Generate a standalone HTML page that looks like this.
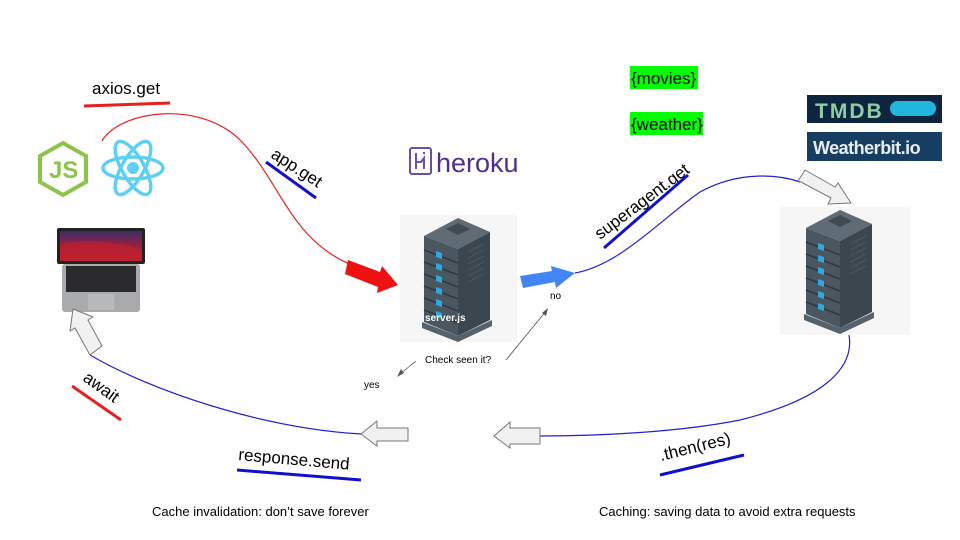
<!DOCTYPE html>
<html><head><meta charset="utf-8"><style>
html,body{margin:0;padding:0;background:#fff;}
svg{display:block;font-family:"Liberation Sans",Arial,sans-serif;}
</style></head><body>
<svg width="960" height="540" viewBox="0 0 960 540" xmlns="http://www.w3.org/2000/svg">
<defs>
<g id="srv">
  <polygon points="0,18 34,0 66,14 34,31" fill="#5f6b75"/>
  <polygon points="22,11 34,5 46,11 34,17" fill="#3f4a53"/>
  <polygon points="0,18 34,31 34,118 0,104" fill="#4a5660"/>
  <polygon points="34,31 66,14 66,102 34,118" fill="#3b464f"/>
  <g stroke="#2f3940" stroke-width="1.5">
    <line x1="0" y1="32" x2="34" y2="45"/><line x1="0" y1="44" x2="34" y2="57"/>
    <line x1="0" y1="56" x2="34" y2="69"/><line x1="0" y1="68" x2="34" y2="81"/>
    <line x1="0" y1="80" x2="34" y2="93"/><line x1="0" y1="92" x2="34" y2="105"/>
  </g>
  <g fill="#2fa8e0">
    <polygon points="12,33 18,35 18,41 12,39"/><polygon points="12,45 18,47 18,53 12,51"/>
    <polygon points="12,57 18,59 18,65 12,63"/><polygon points="12,69 18,71 18,77 12,75"/>
    <polygon points="12,81 18,83 18,89 12,87"/><polygon points="12,93 18,95 18,101 12,99"/>
  </g>
  <g stroke="#4c5860" stroke-width="1">
    <line x1="44" y1="34" x2="60" y2="26"/><line x1="44" y1="40" x2="60" y2="32"/><line x1="44" y1="46" x2="60" y2="38"/><line x1="44" y1="52" x2="60" y2="44"/><line x1="44" y1="58" x2="60" y2="50"/><line x1="44" y1="64" x2="60" y2="56"/>
  </g>
  <polygon points="-2,104 34,118 68,102 68,108 34,124 -2,110" fill="#56626b"/>
</g>
<linearGradient id="scr" x1="0" y1="0" x2="0" y2="1">
  <stop offset="0" stop-color="#3a2d6a"/><stop offset="0.5" stop-color="#9a2040"/><stop offset="1" stop-color="#c02030"/>
</linearGradient>
</defs>

<rect x="400" y="215" width="117" height="127" fill="#f6f6f6"/>
<rect x="780" y="207" width="130" height="128" fill="#f6f6f6"/>
<use href="#srv" x="424" y="218"/>
<use href="#srv" x="806" y="210"/>
<text x="425" y="321" font-size="10" fill="#fff" font-weight="bold">server.js</text>

<rect x="410" y="148" width="21" height="26" rx="2" fill="none" stroke="#6a4fa5" stroke-width="2"/>
<path d="M416 153 v16 M416 162 h5 l3 -4 v11 M424 152 v2" stroke="#6a4fa5" stroke-width="2" fill="none"/>
<text x="436" y="172" font-size="27" fill="#4f2e90">heroku</text>

<polygon points="63,143 86,156 86,182 63,195 40,182 40,156" fill="none" stroke="#8cc44a" stroke-width="4"/>
<text x="49" y="178" font-size="24" fill="#8cc44a" font-weight="bold">JS</text>
<g transform="translate(133,168)" fill="none" stroke="#5fd0f3" stroke-width="3.5">
  <ellipse rx="30" ry="11"/><ellipse rx="30" ry="11" transform="rotate(60)"/><ellipse rx="30" ry="11" transform="rotate(-60)"/>
  <circle r="6" fill="#5fd0f3" stroke="none"/>
</g>

<rect x="57" y="228" width="88" height="36" rx="2" fill="#222"/>
<rect x="60" y="231" width="82" height="30" fill="url(#scr)"/>
<path d="M60 244 Q100 236 142 250 V261 H60 Z" fill="#c0202e" opacity="0.7"/>
<rect x="62" y="264" width="78" height="48" rx="3" fill="#a9aaac"/>
<rect x="66" y="266" width="70" height="26" fill="#2a2a2c"/>
<rect x="88" y="294" width="26" height="16" fill="#b8b9bb"/>

<rect x="807" y="95" width="135" height="28" fill="#0d253f"/>
<text x="815" y="118" font-size="21" font-weight="bold" fill="#90cea1" letter-spacing="2">TMDB</text>
<rect x="890" y="101" width="46" height="15" rx="7.5" fill="#22b6dc"/>
<rect x="807" y="132" width="135" height="29" fill="#173e62"/>
<text x="813" y="154" font-size="18" font-weight="bold" fill="#e8eef4" letter-spacing="-0.5">Weatherbit.io</text>

<rect x="630" y="66" width="68" height="23" fill="#00ff00"/>
<text x="631" y="84" font-size="17">{movies}</text>
<rect x="630" y="112" width="73" height="23" fill="#00ff00"/>
<text x="631" y="130" font-size="17">{weather}</text>

<path d="M102 141 C120 110 200 100 240 140 C280 180 290 240 352 265" fill="none" stroke="#e52020" stroke-width="1.2"/>
<polygon points="348,260 380,272 382,266 398,285 377,293 378,287 345,274" fill="#ee1111"/>
<text x="92" y="94" font-size="17">axios.get</text>
<line x1="84" y1="106" x2="170" y2="103" stroke="#e52020" stroke-width="3"/>
<text transform="translate(270,157) rotate(33)" font-size="17">app.get</text>
<line x1="266" y1="162" x2="316" y2="198" stroke="#1010cc" stroke-width="3"/>

<polygon points="520,276 552,271 551,266 575,273 556,288 555,282 523,288" fill="#4285f4"/>
<path d="M575,273 C620,265 660,220 700,192 C740,170 780,175 800,182" fill="none" stroke="#2222cc" stroke-width="1.2"/>
<text transform="translate(600,240) rotate(-37)" font-size="17">superagent.get</text>
<line x1="604" y1="248" x2="688" y2="175" stroke="#1010cc" stroke-width="3"/>
<polygon points="798,181 805,170 835,187 838,183 851,203 828,204 831,198 801,182" fill="#f1f1f1" stroke="#777" stroke-width="1"/>

<text x="550" y="299" font-size="10">no</text>

<path d="M849 335 C855 370 820 400 740 420 C680 432 600 436 540 436" fill="none" stroke="#2222cc" stroke-width="1.2"/>
<polygon points="540,428 540,444 510,444 510,448 494,436 510,422 510,428" fill="#f1f1f1" stroke="#777" stroke-width="1"/>
<text transform="translate(661,461) rotate(-14)" font-size="17">.then(res)</text>
<line x1="660" y1="475" x2="744" y2="455" stroke="#1010cc" stroke-width="3"/>

<polygon points="408,428 408,441 377,441 377,446 361,434 377,421 377,428" fill="#f1f1f1" stroke="#777" stroke-width="1"/>
<path d="M361 434 C260 428 150 390 90 355" fill="none" stroke="#2222cc" stroke-width="1.2"/>
<polygon points="90,355 75,328 70,331 73,309 93,317 88,320 102,346" fill="#f1f1f1" stroke="#777" stroke-width="1"/>
<text transform="translate(82,380) rotate(36)" font-size="17">await</text>
<line x1="72" y1="386" x2="121" y2="420" stroke="#e52020" stroke-width="3"/>
<text transform="translate(238,460) rotate(5)" font-size="17">response.send</text>
<line x1="237" y1="470" x2="361" y2="480" stroke="#1010cc" stroke-width="3"/>

<text x="425" y="363" font-size="10">Check seen it?</text>
<line x1="506" y1="360" x2="547" y2="310" stroke="#555" stroke-width="0.8"/>
<polygon points="548,308 546,316 542,313" fill="#555"/>
<line x1="416" y1="361" x2="400" y2="374" stroke="#555" stroke-width="0.8"/>
<polygon points="397,377 401,369 404,373" fill="#555"/>
<text x="364" y="388" font-size="10">yes</text>

<text x="152" y="516" font-size="13">Cache invalidation: don’t save forever</text>
<text x="599" y="516" font-size="13">Caching: saving data to avoid extra requests</text>
</svg>
</body></html>
